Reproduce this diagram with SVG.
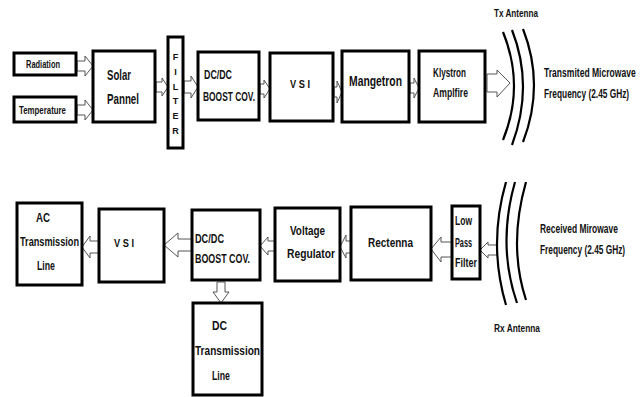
<svg xmlns="http://www.w3.org/2000/svg" width="644" height="397" viewBox="0 0 644 397">
<style>
.box{fill:#fff;stroke:#000;stroke-width:3}
.arr{fill:#fff;stroke:#555;stroke-width:1}
.arc{fill:none;stroke:#000;stroke-width:2.2}
text{font-family:"Liberation Sans Narrow","Liberation Sans",Arial,sans-serif;font-weight:bold;fill:#111}
.s10{font-size:10px}.s11{font-size:11px}.s12{font-size:12.5px}.s13{font-size:13px}.s14{font-size:14px}.s15{font-size:15px}
.lab{font-family:"Liberation Sans",Arial,sans-serif;font-size:13px}
</style>
<rect width="644" height="397" fill="#fff"/>
<g id="connectors">
<polygon class="arr" points="77,61 85,61 85,56 93,66 85,76 85,71 77,71"/>
<polygon class="arr" points="77,105 85,105 85,100 93,110 85,120 85,115 77,115"/>
<polygon class="arr" points="156,82 162,82 162,78 168,87 162,96 162,92 156,92"/>
<polygon class="arr" points="184,81 191,81 191,76 198,87 191,98 191,93 184,93"/>
<polygon class="arr" points="260,84 264,84 264,80 270,89 264,98 264,94 260,94"/>
<polygon class="arr" points="334,87 337,87 337,81 342,92 337,103 337,97 334,97"/>
<polygon class="arr" points="410,83 414,83 414,78 419,88 414,98 414,93 410,93"/>
<polygon class="arr" points="487,74 497,74 497,70 510,83 497,97 497,92 487,92"/>
<polygon class="arr" points="497,245 488,245 488,242 480,250 488,258 488,255 497,255"/>
<polygon class="arr" points="452,242 441,242 441,237 431,249 441,262 441,257 452,257"/>
<polygon class="arr" points="351,241 346,241 346,235 340,247 346,258 346,253 351,253"/>
<polygon class="arr" points="275,241 268,241 268,237 260,246 268,255 268,251 275,251"/>
<polygon class="arr" points="192,239 178,239 178,233 164,245 178,257 178,251 192,251"/>
<polygon class="arr" points="99,241 90,241 90,236 82,247 90,258 90,253 99,253"/>
<polygon class="arr" points="217,282 225,282 225,292 229,292 221,303 213,292 217,292"/>
</g>
<g id="tx-antenna">
<path class="arc" d="M503,32 Q525,86 503,140"/>
<path class="arc" d="M512,30 Q534,86 512,145"/>
<path class="arc" d="M523,29 Q545,85 523,142"/>
<text class="s10" x="494" y="17" textLength="44" lengthAdjust="spacingAndGlyphs">Tx Antenna</text>
</g>
<g id="rx-antenna">
<path class="arc" d="M506,182 Q488,244 506,305"/>
<path class="arc" d="M515,182 Q497,245 517,303"/>
<path class="arc" d="M526,182 Q508,245 526,300"/>
<text class="s10" x="494" y="332" textLength="46" lengthAdjust="spacingAndGlyphs">Rx Antenna</text>
</g>
<g id="tx-label">
<text class="lab" transform="translate(544,77) scale(0.66,1)" x="0" y="0" textLength="139" lengthAdjust="spacingAndGlyphs">Transmited Microwave</text>
<text class="lab" transform="translate(544,98) scale(0.66,1)" x="0" y="0" textLength="129" lengthAdjust="spacingAndGlyphs">Frequency (2.45 GHz)</text>
</g>
<g id="rx-label">
<text class="lab" transform="translate(540,233) scale(0.66,1)" x="0" y="0" textLength="118" lengthAdjust="spacingAndGlyphs">Received Mirowave</text>
<text class="lab" transform="translate(540,254) scale(0.66,1)" x="0" y="0" textLength="129" lengthAdjust="spacingAndGlyphs">Frequency (2.45 GHz)</text>
</g>
<g id="radiation">
<rect class="box" x="14" y="53" width="62" height="22"/>
<text class="s10" x="26" y="68" textLength="34" lengthAdjust="spacingAndGlyphs">Radiation</text>
</g>
<g id="temperature">
<rect class="box" x="14" y="97" width="62" height="25"/>
<text class="s10" x="19" y="114" textLength="47" lengthAdjust="spacingAndGlyphs">Temperature</text>
</g>
<g id="solar">
<rect class="box" x="93" y="51" width="62" height="71"/>
<text class="s15" x="107" y="80" textLength="24" lengthAdjust="spacingAndGlyphs">Solar</text>
<text class="s15" x="107" y="104" textLength="32" lengthAdjust="spacingAndGlyphs">Pannel</text>
</g>
<g id="filter">
<rect class="box" x="168" y="37" width="15" height="111"/>
<g text-anchor="middle" style="font-size:9px">
<text x="175.5" y="60">F</text>
<text x="175.5" y="75">I</text>
<text x="175.5" y="90">L</text>
<text x="175.5" y="104">T</text>
<text x="175.5" y="119">E</text>
<text x="175.5" y="134">R</text>
</g>
</g>
<g id="dcdc-top">
<rect class="box" x="198" y="52" width="61" height="68"/>
<text class="s12" x="204" y="79" textLength="28" lengthAdjust="spacingAndGlyphs">DC/DC</text>
<text class="s12" x="203" y="101" textLength="52" lengthAdjust="spacingAndGlyphs">BOOST COV.</text>
</g>
<g id="vsi-top">
<rect class="box" x="270" y="53" width="63" height="68"/>
<text class="s11" x="290" y="88" textLength="20" lengthAdjust="spacingAndGlyphs">V S I</text>
</g>
<g id="mangetron">
<rect class="box" x="342" y="51" width="67" height="71"/>
<text class="s14" x="349" y="86" textLength="53" lengthAdjust="spacingAndGlyphs">Mangetron</text>
</g>
<g id="klystron">
<rect class="box" x="419" y="51" width="66" height="71"/>
<text class="s12" x="433" y="77" textLength="33" lengthAdjust="spacingAndGlyphs">Klystron</text>
<text class="s12" x="433" y="97" textLength="35" lengthAdjust="spacingAndGlyphs">Amplfire</text>
</g>
<g id="lpf">
<rect class="box" x="452" y="206" width="28" height="73"/>
<text class="s12" x="455" y="225" textLength="17" lengthAdjust="spacingAndGlyphs">Low</text>
<text class="s12" x="455" y="247" textLength="17" lengthAdjust="spacingAndGlyphs">Pass</text>
<text class="s12" x="455" y="267" textLength="22" lengthAdjust="spacingAndGlyphs">Filter</text>
</g>
<g id="rectenna">
<rect class="box" x="351" y="207" width="80" height="73"/>
<text class="s13" x="368" y="247" textLength="45" lengthAdjust="spacingAndGlyphs">Rectenna</text>
</g>
<g id="voltage-regulator">
<rect class="box" x="275" y="208" width="65" height="73"/>
<text class="s13" x="290" y="235" textLength="35" lengthAdjust="spacingAndGlyphs">Voltage</text>
<text class="s13" x="287" y="258" textLength="48" lengthAdjust="spacingAndGlyphs">Regulator</text>
</g>
<g id="dcdc-bottom">
<rect class="box" x="192" y="210" width="68" height="70"/>
<text class="s12" x="195" y="243" textLength="29" lengthAdjust="spacingAndGlyphs">DC/DC</text>
<text class="s12" x="195" y="263" textLength="55" lengthAdjust="spacingAndGlyphs">BOOST COV.</text>
</g>
<g id="vsi-bottom">
<rect class="box" x="99" y="209" width="65" height="73"/>
<text class="s11" x="114" y="247" textLength="20" lengthAdjust="spacingAndGlyphs">V S I</text>
</g>
<g id="ac-line">
<rect class="box" x="17" y="203" width="65" height="82"/>
<text class="s13" x="36" y="222" textLength="14" lengthAdjust="spacingAndGlyphs">AC</text>
<text class="s13" x="20" y="246" textLength="59" lengthAdjust="spacingAndGlyphs">Transmission</text>
<text class="s13" x="37" y="270" textLength="18" lengthAdjust="spacingAndGlyphs">Line</text>
</g>
<g id="dc-line">
<rect class="box" x="193" y="303" width="69" height="92"/>
<text class="s13" x="212" y="330" textLength="15" lengthAdjust="spacingAndGlyphs">DC</text>
<text class="s13" x="195" y="355" textLength="65" lengthAdjust="spacingAndGlyphs">Transmission</text>
<text class="s13" x="212" y="380" textLength="18" lengthAdjust="spacingAndGlyphs">Line</text>
</g>
</svg>
